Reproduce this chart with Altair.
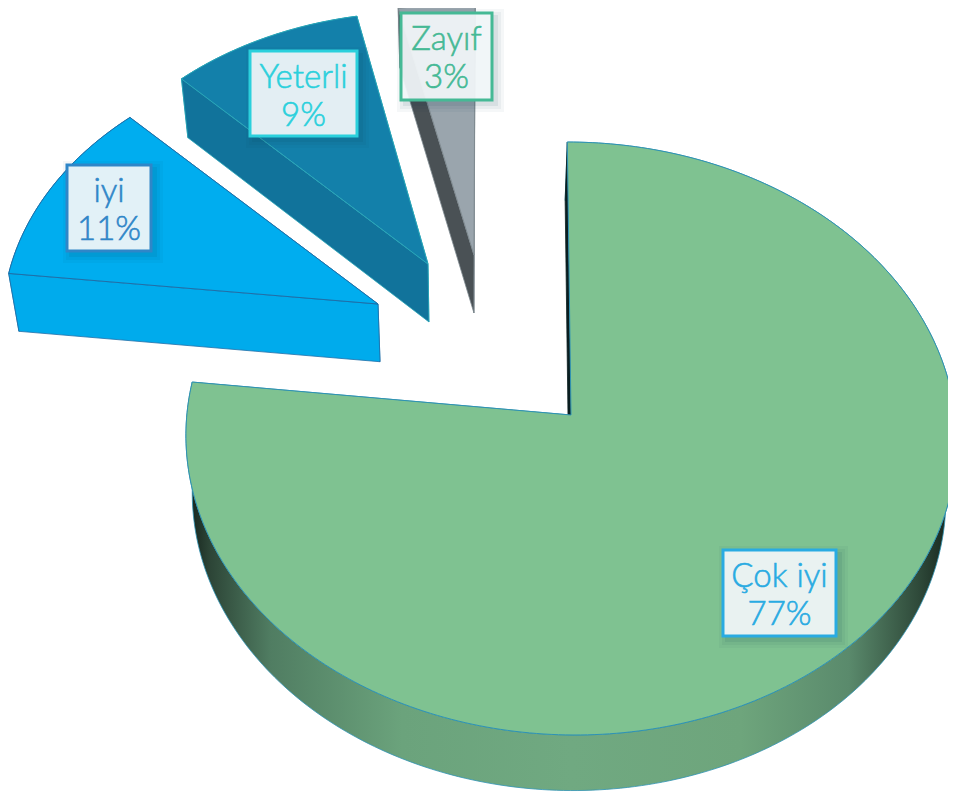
import math
import altair as alt
import pandas as pd

# ---- chart values
categories = ["Zayıf", "Yeterli", "iyi", "Çok iyi"]
shares = [3.0, 9.2, 11.0, 76.8]   # estimated shares, shown rounded
start_pct = [97.0, 87.8, 76.8, 0.0]   # cumulative start of each slice, clockwise from 12 o'clock

# ---- styling per slice
top_colors = ["#9AA5AD", "#1380AA", "#00ADEF", "#7FC291"]
side_colors = ["#9AA5AD", "#11739B", "#00ABEC", "#6FA97F"]
face_colors = ["#4A5155", "#11739B", "#00ABEC", "#0A1E20"]
edge_colors = ["#7F8A90", "#2AA6B8", "#1F6FA8", "#2F93B4"]
label_colors = ["#45B995", "#2BD0DC", "#2F86C8", "#29ABE2"]

# ---- layout: picture-space apex of each exploded slice, shear and stretch of its rim
apex_x = [474, 428, 378, 571]
apex_y = [255, 264, 304, 415]
shear = [-0.0165, -0.05, -0.045, -0.01]
stretch_x = [1.18, 0.98, 0.99, 0.985]
stretch_y = [1.0, 1.0, 0.985, 1.0]
box_x = [401, 250, 67, 723]
box_x2 = [492, 357, 151, 836]
box_y = [13, 51, 165, 550]
box_y2 = [100, 136, 251, 636]

# ---- camera model
CX, CY = 570, 415
RX, RY, K = 390, 294.6, 0.0793
VX, T = 470, 0.0222
DEPTH, DEPTH_SLOPE = 59.25, 0.005


def project(X, Y):
    w = 1 + K * Y
    return CX + RX * X / w, CY - RY * Y / w


def unproject(px, py):
    v = (CY - py) / RY
    Y = v / (1 - K * v)
    return (px - CX) * (1 + K * Y) / RX, Y


def drop(p):
    return p[0] + T * (VX - p[0]), p[1] + DEPTH - DEPTH_SLOPE * p[1]


def polygon(points):
    return pd.DataFrame({"x": [p[0] for p in points], "y": [p[1] for p in points],
                         "i": list(range(len(points)))})


X_SCALE = alt.Scale(domain=[8, 948])
Y_SCALE = alt.Scale(domain=[8, 795], reverse=True)


def shape(points, fill, stroke, width=1.0):
    return alt.Chart(polygon(points)).mark_line(
        interpolate="linear-closed", fill=fill, stroke=stroke, strokeWidth=width, clip=True
    ).encode(
        x=alt.X("x:Q", scale=X_SCALE, axis=None),
        y=alt.Y("y:Q", scale=Y_SCALE, axis=None),
        order="i:Q",
    )


green_side = alt.LinearGradient(
    gradient="linear", x1=0, x2=1, y1=0, y2=0,
    stops=[
        alt.GradientStop(color="#121E18", offset=0.0),
        alt.GradientStop(color="#2C4436", offset=0.03),
        alt.GradientStop(color="#507D62", offset=0.11),
        alt.GradientStop(color="#6BA37C", offset=0.28),
        alt.GradientStop(color="#70A981", offset=0.5),
        alt.GradientStop(color="#6EA57C", offset=0.72),
        alt.GradientStop(color="#5A8A6C", offset=0.86),
        alt.GradientStop(color="#2F4A3A", offset=0.95),
        alt.GradientStop(color="#121E18", offset=1.0),
    ],
)

layers = []
for n in range(len(categories)):
    a0 = start_pct[n] * 3.6
    a1 = (start_pct[n] + shares[n]) * 3.6
    ax, ay = unproject(apex_x[n], apex_y[n])

    def rim(a):
        s, c = math.sin(math.radians(a)), math.cos(math.radians(a))
        return project(ax + stretch_x[n] * s + shear[n] * c, ay + stretch_y[n] * c)

    steps = max(6, int(a1 - a0))
    arc = [rim(a0 + (a1 - a0) * j / steps) for j in range(steps + 1)]
    apex = (apex_x[n], apex_y[n])
    side_fill = green_side if n == 3 else side_colors[n]
    layers.append(shape([apex, arc[-1], drop(arc[-1]), drop(apex)], face_colors[n], edge_colors[n], 0.8))
    layers.append(shape(arc + [drop(p) for p in reversed(arc)], side_fill, edge_colors[n], 0.8))
    face_edge = face_colors[n] if n == 3 else edge_colors[n]
    layers.append(shape([apex, arc[0], drop(arc[0]), drop(apex)], face_colors[n], face_edge, 0.8))
    layers.append(shape([apex] + arc, top_colors[n], edge_colors[n], 1.0))

boxes = pd.DataFrame({
    "x": box_x, "x2": box_x2, "y": box_y, "y2": box_y2, "color": label_colors,
    "cx": [(a + b) / 2 for a, b in zip(box_x, box_x2)],
    "line1": categories, "line2": [f"{round(p)}%" for p in shares],
    "y1t": [t + 27 for t in box_y], "y2t": [t + 65 for t in box_y],
})

for grow, op in [(8, 0.04), (5, 0.05), (2, 0.08)]:
    shadow = boxes.assign(x=boxes.x - grow + 4, x2=boxes.x2 + grow + 4,
                          y=boxes.y - grow + 4, y2=boxes.y2 + grow + 4)
    layers.append(alt.Chart(shadow).mark_rect(fill="#0B3B4A", opacity=op).encode(
        x=alt.X("x:Q", scale=X_SCALE, axis=None), x2="x2:Q",
        y=alt.Y("y:Q", scale=Y_SCALE, axis=None), y2="y2:Q",
    ))

layers.append(alt.Chart(boxes).mark_rect(fill="#F3F8FA", fillOpacity=0.93, strokeWidth=3).encode(
    x=alt.X("x:Q", scale=X_SCALE, axis=None), x2="x2:Q",
    y=alt.Y("y:Q", scale=Y_SCALE, axis=None), y2="y2:Q",
    stroke=alt.Color("color:N", scale=None),
))
for field, ypos in [("line1", "y1t"), ("line2", "y2t")]:
    layers.append(alt.Chart(boxes).mark_text(font="Lato", fontSize=33, fontWeight=300, strokeWidth=0.6,
                                             align="center", baseline="middle").encode(
        x=alt.X("cx:Q", scale=X_SCALE, axis=None),
        y=alt.Y(f"{ypos}:Q", scale=Y_SCALE, axis=None),
        text=f"{field}:N",
        color=alt.Color("color:N", scale=None),
        stroke=alt.Color("color:N", scale=None),
    ))

chart = alt.layer(*layers).properties(
    width=940, height=787, padding=0, background="white",
    autosize=alt.AutoSizeParams(type="none"),
).configure_view(stroke=None)

chart.save("out.html", embed_options={"renderer": "svg", "actions": False})
